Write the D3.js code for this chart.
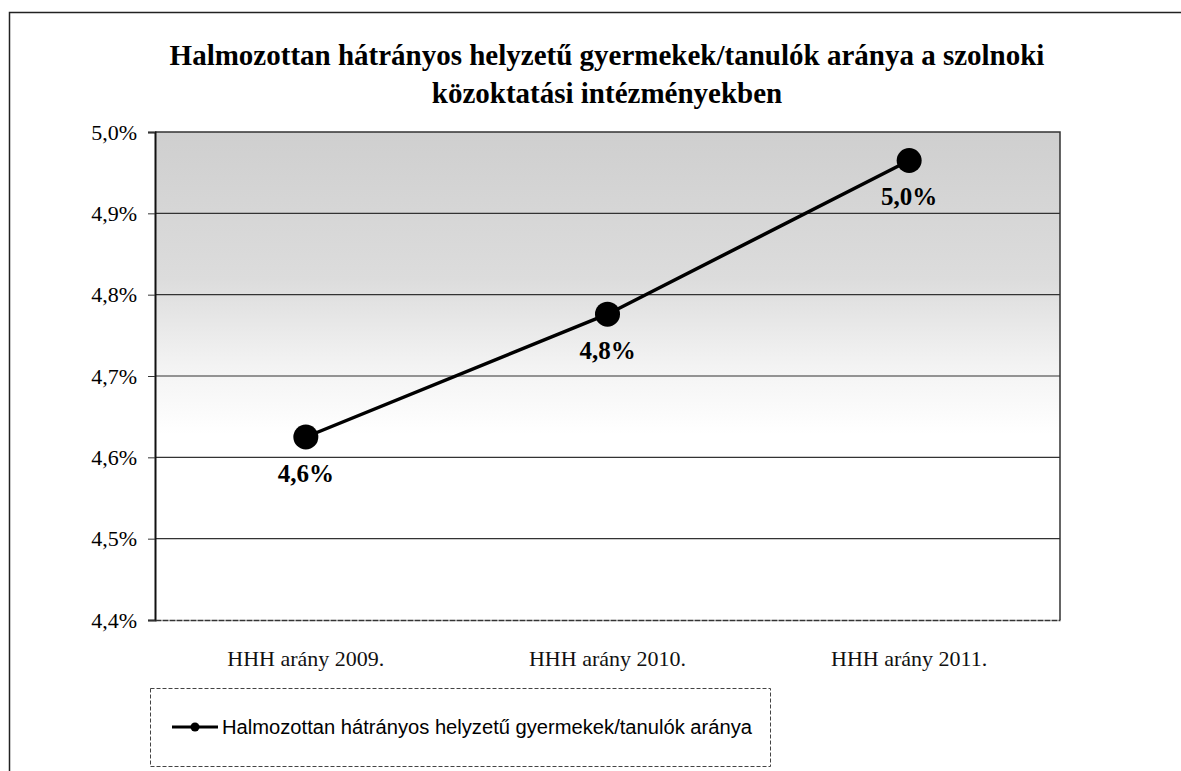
<!DOCTYPE html>
<html>
<head>
<meta charset="utf-8">
<script src="https://cdn.jsdelivr.net/npm/d3@7"></script>
<style>
  body { margin: 0; background: #fff; }
  svg { display: block; }
</style>
</head>
<body>
<div id="viz"></div>
<script>
const categories = ["HHH arány 2009.", "HHH arány 2010.", "HHH arány 2011."];
const values = [4.625, 4.776, 4.965];
const valueLabels = ["4,6%", "4,8%", "5,0%"];
const yTicks = [4.4, 4.5, 4.6, 4.7, 4.8, 4.9, 5.0];
const titleLines = ["Halmozottan hátrányos helyzetű gyermekek/tanulók aránya a szolnoki", "közoktatási intézményekben"];
const seriesName = "Halmozottan hátrányos helyzetű gyermekek/tanulók aránya";

const width = 1181, height = 771;
const plot = { left: 155, right: 1060, top: 132, bottom: 620 };
const serif = "'Liberation Serif', 'Times New Roman', serif";

const svg = d3.select("#viz").append("svg")
  .attr("width", width)
  .attr("height", height);

// outer chart frame
svg.append("rect")
  .attr("x", 9.5).attr("y", 12.5)
  .attr("width", 1200).attr("height", 800)
  .attr("fill", "none").attr("stroke", "#222").attr("stroke-width", 1.5);

const x = d3.scaleBand().domain(categories).range([plot.left, plot.right]);
const y = d3.scaleLinear().domain([4.4, 5.0]).range([plot.bottom, plot.top]);

// shading of plot area
const defs = svg.append("defs");
const grad = defs.append("linearGradient").attr("id", "bg")
  .attr("x1", 0).attr("y1", 0).attr("x2", 0).attr("y2", 1);
grad.append("stop").attr("offset", "0%").attr("stop-color", "#cfcfcf");
grad.append("stop").attr("offset", "30%").attr("stop-color", "#dcdcdc");
grad.append("stop").attr("offset", "48%").attr("stop-color", "#f3f3f3");
grad.append("stop").attr("offset", "62%").attr("stop-color", "#ffffff");
grad.append("stop").attr("offset", "100%").attr("stop-color", "#ffffff");

svg.append("rect")
  .attr("x", plot.left).attr("y", plot.top)
  .attr("width", plot.right - plot.left).attr("height", plot.bottom - plot.top)
  .attr("fill", "url(#bg)");

// gridlines
svg.append("g")
  .selectAll("line")
  .data(yTicks.filter(d => d > 4.4 && d < 5.0))
  .join("line")
  .attr("x1", plot.left).attr("x2", plot.right)
  .attr("y1", d => y(d)).attr("y2", d => y(d))
  .attr("stroke", "#333").attr("stroke-width", 1.2);

// frame top/right
svg.append("path")
  .attr("d", `M${plot.left},${plot.top}H${plot.right}V${plot.bottom}`)
  .attr("fill", "none").attr("stroke", "#333").attr("stroke-width", 1.5);

// y axis
const yAxis = svg.append("g")
  .attr("transform", `translate(${plot.left},0)`)
  .call(d3.axisLeft(y).tickValues(yTicks).tickSize(7).tickPadding(11)
    .tickFormat(d => d.toFixed(1).replace(".", ",") + "%"));
yAxis.attr("font-family", serif).attr("font-size", 22);
yAxis.select(".domain").attr("stroke", "#111").attr("stroke-width", 2);
yAxis.selectAll(".tick line").attr("stroke", "#333");
yAxis.selectAll("text").attr("fill", "#000");

// x axis
const xAxis = svg.append("g")
  .attr("transform", `translate(0,${plot.bottom})`)
  .call(d3.axisBottom(x).tickSize(0).tickPadding(30));
xAxis.attr("font-family", serif).attr("font-size", 22);
xAxis.select(".domain").attr("stroke", "#333").attr("stroke-width", 1.5)
  .attr("stroke-dasharray", "6,1");
xAxis.selectAll("text").attr("fill", "#111");

// line
const pts = categories.map((c, i) => [x(c) + x.bandwidth() / 2, y(values[i])]);
svg.append("path")
  .datum(pts)
  .attr("d", d3.line())
  .attr("fill", "none").attr("stroke", "#000").attr("stroke-width", 3.5);

svg.append("g").selectAll("circle")
  .data(pts)
  .join("circle")
  .attr("cx", d => d[0]).attr("cy", d => d[1])
  .attr("r", 12.5).attr("fill", "#000");

svg.append("g").selectAll("text")
  .data(pts)
  .join("text")
  .attr("x", d => d[0]).attr("y", d => d[1] + 45)
  .attr("text-anchor", "middle")
  .attr("font-family", serif)
  .attr("font-weight", "bold").attr("font-size", 25).attr("fill", "#000")
  .text((d, i) => valueLabels[i]);

// title
svg.append("g").selectAll("text")
  .data(titleLines)
  .join("text")
  .attr("x", 607).attr("y", (d, i) => 65 + i * 38)
  .attr("text-anchor", "middle")
  .attr("font-family", serif)
  .attr("font-weight", "bold").attr("font-size", 29).attr("fill", "#000")
  .text(d => d);

// legend
const lg = svg.append("g");
lg.append("rect")
  .attr("x", 150.5).attr("y", 688.5).attr("width", 620).attr("height", 78)
  .attr("fill", "#fff").attr("stroke", "#444").attr("stroke-width", 1)
  .attr("stroke-dasharray", "4,2");
lg.append("line")
  .attr("x1", 172).attr("x2", 218).attr("y1", 727).attr("y2", 727)
  .attr("stroke", "#000").attr("stroke-width", 3);
lg.append("circle").attr("cx", 195).attr("cy", 727).attr("r", 4.5).attr("fill", "#000");
lg.append("text")
  .attr("x", 222).attr("y", 734)
  .attr("font-family", "'Liberation Sans Narrow', 'Arial Narrow', 'Liberation Sans', sans-serif")
  .attr("font-size", 20).attr("fill", "#000")
  .attr("textLength", 530).attr("lengthAdjust", "spacingAndGlyphs")
  .text(seriesName);
</script>
</body>
</html>
